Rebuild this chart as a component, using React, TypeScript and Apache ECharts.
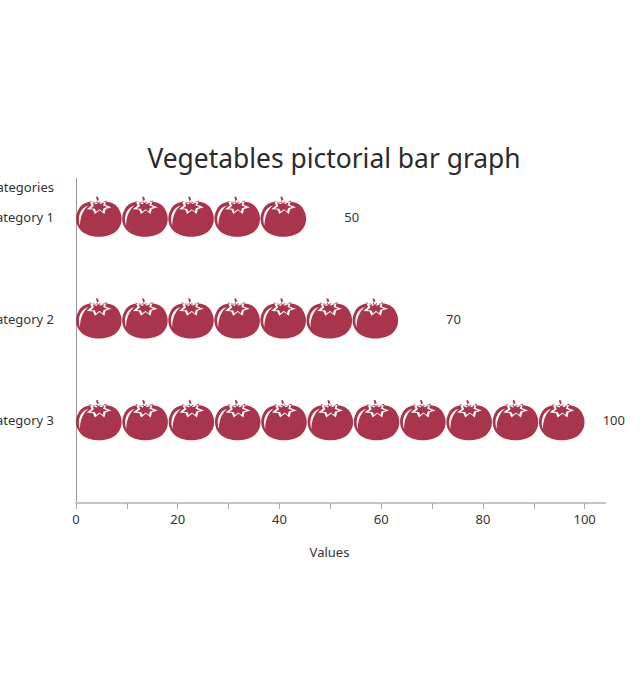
import React, { useEffect, useRef } from "react";
import * as echarts from "echarts";

const categories = ["Category 1", "Category 2", "Category 3"];
const values = [50, 70, 100];
const tomatoCounts = [5, 7, 11];
const tomatoUnits = [9.05, 9.05, 9.09];

const tomato =
  "path://M68,20 C52,10 22,13 9,36 C-4,58 0,84 18,100 C32,112 50,116 68,116 C88,116 106,112 120,100 C138,84 141,58 128,36 C115,13 84,10 68,20 Z " +
  "M67,9 L75,17 L92,10 L87,23 L106,30 L89,35 L85,50 L71,39 L57,50 L51,37 L33,36 L47,25 L41,11 L58,18 Z " +
  "M67.6,15.4 L61.5,21.5 L50,16.8 L54,26.3 L44.5,33.8 L56.8,34.4 L60.8,43.3 L70.4,35.8 L79.9,43.3 L82.6,33.1 L94.2,29.7 L81.2,24.9 L84.6,16.1 L73,20.8 Z " +
  "M60,0 L66,20 L72,20 L66,0 Z " +
  "M13,84 C3,55 17,30 38,25 C24,36 13,55 13,84 Z";

const font = "Noto Sans";
const textColor = "#333333";

export default function App() {
  const ref = useRef<HTMLDivElement>(null);
  useEffect(() => {
    const chart = echarts.init(ref.current!, undefined, { renderer: "svg" });
    chart.setOption({
      animation: false,
      title: {
        text: "Vegetables pictorial bar graph",
        left: 329,
        top: 140,
        textAlign: "center",
        textStyle: { fontFamily: font, fontSize: 26.4, fontWeight: "normal", color: "#2b2b2b" },
      },
      grid: [
        { left: 76, width: 529, top: 166, height: 305, outerBoundsMode: "none" },
        { left: 76, width: 529, top: 178, height: 325, outerBoundsMode: "none" },
      ],
      xAxis: [
        { type: "value", gridIndex: 0, min: 0, max: 104, show: false },
        {
          type: "value",
          gridIndex: 1,
          min: 0,
          max: 104,
          interval: 10,
          splitLine: { show: false },
          axisLine: { show: true, lineStyle: { color: "#c4c4c4", width: 2 } },
          axisTick: { show: true, length: 6, lineStyle: { color: "#aaaaaa" } },
          axisLabel: {
            margin: 9,
            fontFamily: font,
            fontSize: 13,
            color: textColor,
            showMaxLabel: false,
            formatter: (v: number) => (v % 20 === 0 ? String(v) : ""),
          },
          name: "Values",
          nameLocation: "middle",
          nameGap: 42,
          nameTextStyle: { fontFamily: font, fontSize: 13, color: textColor, padding: [0, 22, 0, 0] },
        },
      ],
      yAxis: [
        {
          type: "category",
          gridIndex: 0,
          inverse: true,
          data: categories,
          axisLine: { show: false },
          axisTick: { show: false },
          axisLabel: { margin: 22, fontFamily: font, fontSize: 13, color: textColor },
        },
        {
          type: "value",
          gridIndex: 1,
          min: 0,
          max: 1,
          axisLine: { show: true, lineStyle: { color: "#999999", width: 1 } },
          axisTick: { show: false },
          axisLabel: { show: false },
          splitLine: { show: false },
          name: "Categories",
          nameLocation: "end",
          nameGap: -9,
          nameTextStyle: {
            fontFamily: font,
            fontSize: 13,
            color: textColor,
            align: "right",
            verticalAlign: "middle",
            padding: [0, 22, 0, 0],
          },
        },
      ],
      series: [
        {
          type: "pictorialBar",
          xAxisIndex: 0,
          yAxisIndex: 0,
          symbol: tomato,
          symbolPosition: "start",
          symbolSize: [45.7, 40],
          itemStyle: { color: "#a8354c" },
          label: {
            show: true,
            position: "right",
            distance: 14,
            fontFamily: font,
            fontSize: 13,
            color: textColor,
          },
          data: values.map((value, i) => ({
            value,
            symbolRepeat: tomatoCounts[i],
            symbolBoundingData: tomatoCounts[i] * tomatoUnits[i],
            label: i === 2 ? { distance: 18 } : undefined,
          })),
        },
      ],
    });
    return () => chart.dispose();
  }, []);
  return <div ref={ref} style={{ position: "absolute", left: 0, top: 0, width: 640, height: 687 }} />;
}
